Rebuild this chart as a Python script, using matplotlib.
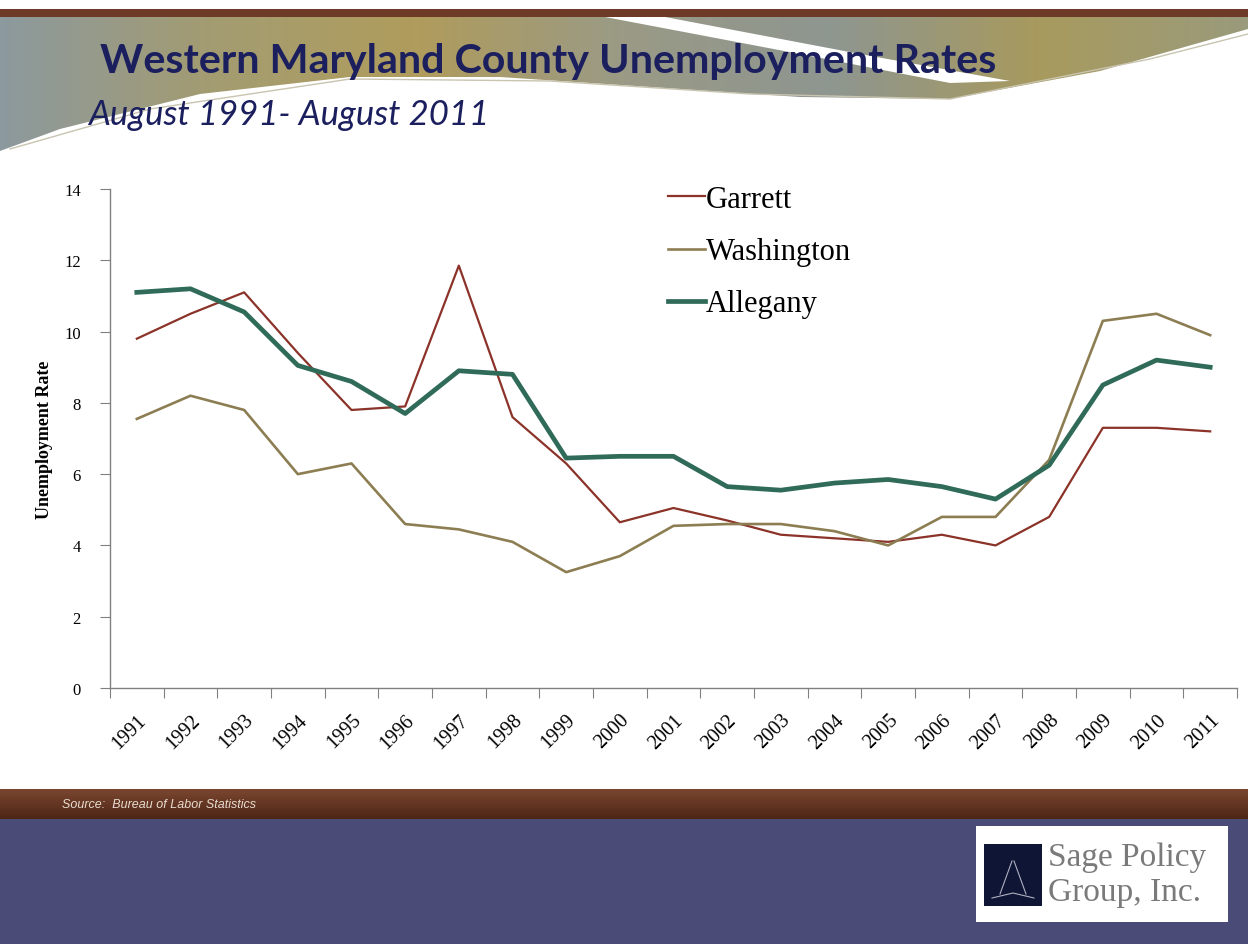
"""Western Maryland county unemployment rates, Aug 1991 - Aug 2011."""

import numpy
from matplotlib import pyplot
from matplotlib.colors import LinearSegmentedColormap
from matplotlib.patches import Polygon, Rectangle

years = [str(y) for y in range(1991, 2012)]
garrett = [9.8, 10.5, 11.1, 9.4, 7.8, 7.9, 11.85, 7.6, 6.3, 4.65, 5.05,
           4.7, 4.3, 4.2, 4.1, 4.3, 4.0, 4.8, 7.3, 7.3, 7.2]
washington = [7.55, 8.2, 7.8, 6.0, 6.3, 4.6, 4.45, 4.1, 3.25, 3.7, 4.55,
              4.6, 4.6, 4.4, 4.0, 4.8, 4.8, 6.4, 10.3, 10.5, 9.9]
allegany = [11.1, 11.2, 10.55, 9.05, 8.6, 7.7, 8.9, 8.8, 6.45, 6.5, 6.5,
            5.65, 5.55, 5.75, 5.85, 5.65, 5.3, 6.25, 8.5, 9.2, 9.0]
yticks = [0, 2, 4, 6, 8, 10, 12, 14]

W, H = 1248, 945
fig = pyplot.figure(figsize=(W / 100, H / 100), dpi=100)

# Slide decoration drawn in pixel coordinates.
bg = fig.add_axes([0, 0, 1, 1], zorder=-1)
bg.set_xlim(0, W)
bg.set_ylim(H, 0)
bg.axis('off')

# Header swoosh.
cmap = LinearSegmentedColormap.from_list(
    'swoosh', ['#8c999e', '#a39c72', '#b09c5c', '#9a9a86', '#8e9690',
               '#a89a5e', '#9a9a7c'])
grad = numpy.linspace(0, 1, 256).reshape(1, -1)
swoosh = Polygon([(0, 18), (W, 18), (W, 30), (1100, 72), (950, 100),
                  (800, 98), (650, 88), (500, 78), (350, 78), (200, 95),
                  (60, 130), (0, 152)], closed=True, facecolor='none',
                 edgecolor='none')
bg.add_patch(swoosh)
im = bg.imshow(grad, cmap=cmap, extent=(0, W, 160, 18), aspect='auto')
im.set_clip_path(swoosh)
bg.add_patch(Polygon([(605, 18), (665, 18), (860, 55), (1010, 82),
                      (950, 84), (800, 55)], closed=True,
                     facecolor='white', edgecolor='none'))
bg.plot([10, 150, 350, 550, 750, 950, 1150, 1248],
        [150, 110, 80, 82, 95, 100, 60, 35], color='#c8c4b0', lw=1)
bg.add_patch(Rectangle((0, 10), W, 8, facecolor='#6e3a28', edgecolor='none'))

fig.text(100 / W, 1 - 62 / H, 'Western Maryland County Unemployment Rates',
         family='Lato', weight='bold', fontsize=29.7, color='#1b1f5e',
         ha='left', va='center')
fig.text(88 / W, 1 - 115 / H, 'August 1991- August 2011',
         family='Lato', style='italic', fontsize=25, color='#1b1f5e',
         ha='left', va='center')

# Footer bands and logo.
band = LinearSegmentedColormap.from_list('band', ['#7a4630', '#4e2616'])
bg.imshow(numpy.linspace(0, 1, 64).reshape(-1, 1), cmap=band,
          extent=(0, W, 820, 790), aspect='auto')
bg.add_patch(Rectangle((0, 820), W, 125, facecolor='#4b4b78',
                       edgecolor='none'))
fig.text(62 / W, 1 - 805 / H, 'Source:  Bureau of Labor Statistics',
         family='Liberation Sans', style='italic', fontsize=9,
         color='#e8dcd0', ha='left', va='center')
bg.add_patch(Rectangle((976, 827), 252, 96, facecolor='white',
                       edgecolor='none'))
bg.add_patch(Rectangle((984, 845), 58, 62, facecolor='#0e1535',
                       edgecolor='none'))
bg.plot([1012, 1000], [862, 895], color='#b0b0c0', lw=0.8)
bg.plot([1014, 1026], [862, 895], color='#b0b0c0', lw=0.8)
bg.plot([992, 1013, 1034], [899, 894, 899], color='#b0b0c0', lw=0.8)
fig.text(1048 / W, 1 - 858 / H, 'Sage Policy', family='Liberation Serif',
         fontsize=24, color='#7a7a7a', ha='left', va='center')
fig.text(1048 / W, 1 - 893 / H, 'Group, Inc.', family='Liberation Serif',
         fontsize=24, color='#7a7a7a', ha='left', va='center')

# Chart.
ax = fig.add_axes([110 / W, 1 - 689 / H, 1127 / W, 499 / H])
ax.set_facecolor('none')
x = numpy.arange(len(years))
ax.plot(x, garrett, color='#8b3329', lw=1.6, label='Garrett')
ax.plot(x, washington, color='#8c7e52', lw=1.9, label='Washington')
ax.plot(x, allegany, color='#2f6b58', lw=3.4, label='Allegany')

ax.set_xlim(-0.5, len(years) - 0.5)
ax.set_ylim(0, 14)
for side in ['top', 'right']:
    ax.spines[side].set_visible(False)
for side in ['left', 'bottom']:
    ax.spines[side].set_color('#808080')
    ax.spines[side].set_linewidth(1.0)

ax.set_yticks(yticks)
ax.set_yticklabels([str(v) for v in yticks], family='Liberation Serif',
                   fontsize=12)
ax.tick_params(axis='y', length=7, color='#808080', pad=14)
ax.set_xticks(numpy.arange(-0.5, len(years), 1))
ax.set_xticklabels([])
ax.tick_params(axis='x', which='major', length=7, color='#808080')
ax.set_xticks(x, minor=True)
ax.set_xticklabels(years, minor=True, rotation=45, ha='right',
                   rotation_mode='anchor', family='Liberation Serif',
                   fontsize=14.5)
ax.tick_params(axis='x', which='minor', length=0, pad=16)
ax.set_ylabel('Unemployment Rate', family='Liberation Serif',
              weight='bold', fontsize=13, labelpad=8)

ax.legend(loc='upper left', bbox_to_anchor=(668 / W, 1 - 186 / H),
          bbox_transform=fig.transFigure, frameon=False, borderpad=0,
          borderaxespad=0, handlelength=1.2, handletextpad=0.05,
          labelspacing=0.76, prop={'family': 'Liberation Serif', 'size': 22})

fig.savefig('out.png', dpi=100)
